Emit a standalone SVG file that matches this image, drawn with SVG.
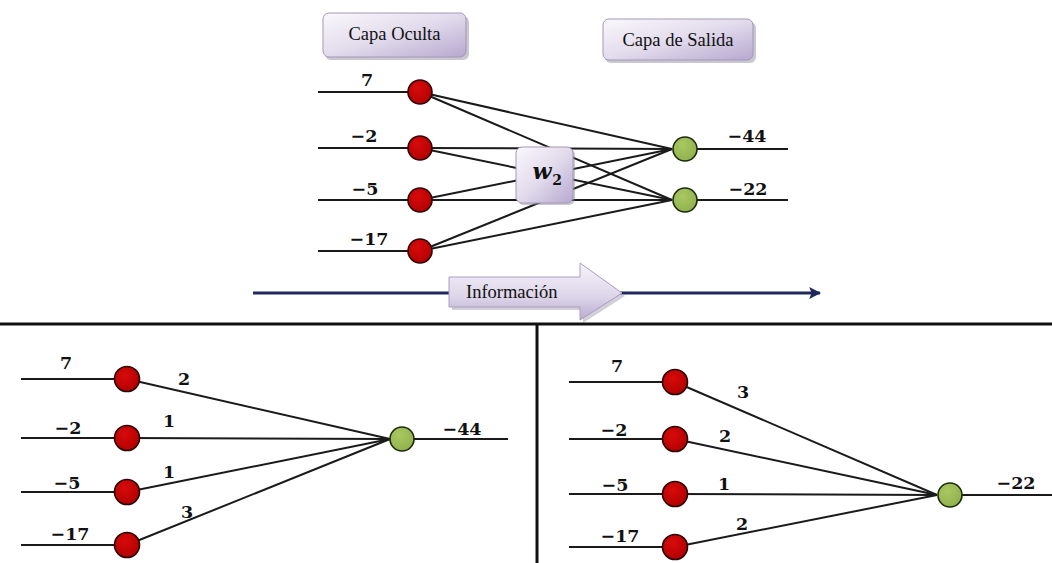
<svg xmlns="http://www.w3.org/2000/svg" width="1052" height="563" viewBox="0 0 1052 563">
  <defs>
    <linearGradient id="boxGrad" x1="0" y1="0" x2="1" y2="1">
      <stop offset="0" stop-color="#faf8fc"/>
      <stop offset="0.5" stop-color="#e2dbec"/>
      <stop offset="1" stop-color="#b7a8cf"/>
    </linearGradient>
    <linearGradient id="arrowGrad" x1="0" y1="0" x2="0" y2="1">
      <stop offset="0" stop-color="#f6f3fa"/>
      <stop offset="0.6" stop-color="#ddd5e9"/>
      <stop offset="1" stop-color="#b9abd0"/>
    </linearGradient>
    <radialGradient id="redGrad" cx="0.4" cy="0.35" r="0.7">
      <stop offset="0" stop-color="#d80a0a"/>
      <stop offset="1" stop-color="#b00000"/>
    </radialGradient>
    <radialGradient id="greenGrad" cx="0.4" cy="0.35" r="0.7">
      <stop offset="0" stop-color="#a9c862"/>
      <stop offset="1" stop-color="#8fb04c"/>
    </radialGradient>
    <marker id="navyHead" viewBox="0 0 10 10" refX="9" refY="5" markerWidth="4" markerHeight="4" orient="auto">
      <path d="M0,0 L10,5 L0,10 L2,5 Z" fill="#1f2a5c"/>
    </marker>
  </defs>
  <style>
    .wire { stroke: #1a1a1a; stroke-width: 2; fill: none; }
    .hidden { fill: url(#redGrad); stroke: #2a0606; stroke-width: 1.6; }
    .out { fill: url(#greenGrad); stroke: #1c2a0c; stroke-width: 1.6; }
    .num { font-family: "DejaVu Serif", "Liberation Serif", serif; font-weight: bold; font-size: 17.5px; fill: #111; text-anchor: middle; }
    .lbl { font-family: "Liberation Serif", "DejaVu Serif", serif; font-size: 18.5px; fill: #111; }
    .mid { text-anchor: middle; }
    .box { fill: url(#boxGrad); stroke: #a397b5; stroke-width: 1; }
    .shadow { fill: #8c8396; opacity: 0.45; }
    .divider { stroke: #111; stroke-width: 3; fill: none; }
  </style>

  <rect width="1052" height="563" fill="#ffffff"/>

  <!-- layer captions -->
  <g id="capa-oculta">
    <rect class="shadow" x="325" y="16" width="144" height="44" rx="6"/>
    <rect class="box" x="323" y="13" width="143" height="44" rx="6"/>
    <text class="lbl mid" x="394.5" y="40">Capa Oculta</text>
  </g>
  <g id="capa-salida">
    <rect class="shadow" x="605" y="22" width="151" height="41" rx="6"/>
    <rect class="box" x="603" y="19" width="150" height="41" rx="6"/>
    <text class="lbl mid" x="678" y="46">Capa de Salida</text>
  </g>

  <!-- top network connectors -->
  <g id="top-connectors">
    <line class="wire" x1="318" y1="92" x2="420" y2="92"/>
    <line class="wire" x1="318" y1="148" x2="420" y2="148"/>
    <line class="wire" x1="318" y1="200" x2="420" y2="200"/>
    <line class="wire" x1="318" y1="251" x2="420" y2="251"/>
    <line class="wire" x1="420" y1="92" x2="672" y2="149"/>
    <line class="wire" x1="420" y1="92" x2="672" y2="200"/>
    <line class="wire" x1="420" y1="148" x2="672" y2="149"/>
    <line class="wire" x1="420" y1="148" x2="672" y2="200"/>
    <line class="wire" x1="420" y1="200" x2="672" y2="149"/>
    <line class="wire" x1="420" y1="200" x2="672" y2="200"/>
    <line class="wire" x1="420" y1="251" x2="672" y2="149"/>
    <line class="wire" x1="420" y1="251" x2="672" y2="200"/>
    <line class="wire" x1="685" y1="149" x2="788" y2="149"/>
    <line class="wire" x1="685" y1="200" x2="788" y2="200"/>
  </g>

  <g id="w2-box">
    <rect class="shadow" x="518" y="149" width="57" height="56" rx="6"/>
    <rect class="box" x="516" y="147" width="57" height="56" rx="6"/>
    <text x="542" y="179" font-family="DejaVu Serif, Liberation Serif, serif" font-weight="bold" font-style="italic" font-size="22" fill="#111" text-anchor="middle">w</text>
    <text x="557" y="185" font-family="DejaVu Serif, Liberation Serif, serif" font-weight="bold" font-size="14" fill="#111" text-anchor="middle">2</text>
  </g>

  <g id="top-hidden-nodes">
    <circle class="hidden" cx="420" cy="92" r="12"/>
    <circle class="hidden" cx="420" cy="148" r="12"/>
    <circle class="hidden" cx="420" cy="200" r="12"/>
    <circle class="hidden" cx="420" cy="251" r="12"/>
  </g>
  <g id="top-output-nodes">
    <circle class="out" cx="685" cy="149" r="12"/>
    <circle class="out" cx="685" cy="200" r="12"/>
  </g>
  <g id="top-labels">
    <text class="num" x="367" y="86">7</text>
    <text class="num" x="364" y="142">−2</text>
    <text class="num" x="365" y="195">−5</text>
    <text class="num" x="369" y="245">−17</text>
    <text class="num" x="747" y="142">−44</text>
    <text class="num" x="748" y="195">−22</text>
  </g>

  <!-- information flow arrow -->
  <g id="flow">
    <line x1="253" y1="293" x2="820" y2="293" stroke="#1f2a5c" stroke-width="3" marker-end="url(#navyHead)"/>
    <path d="M452,280 H583 V266 L625,296 L583,323 V310 H452 Z" fill="#9c94a8" opacity="0.45"/>
    <path d="M449,277 H580 V263 L622,293 L580,320 V307 H449 Z" fill="url(#arrowGrad)" stroke="#a99dbd" stroke-width="1"/>
    <text class="lbl" x="466" y="298">Información</text>
  </g>

  <!-- panel dividers -->
  <g id="dividers">
    <line class="divider" x1="0" y1="324" x2="1052" y2="324"/>
    <line class="divider" x1="537" y1="324" x2="537" y2="563" stroke-width="2.5"/>
  </g>

  <!-- lower left: neuron computing -44 -->
  <g id="left-connectors">
    <line class="wire" x1="21" y1="379" x2="127" y2="379"/>
    <line class="wire" x1="21" y1="438" x2="127" y2="438"/>
    <line class="wire" x1="21" y1="492" x2="127" y2="492"/>
    <line class="wire" x1="21" y1="545" x2="127" y2="545"/>
    <line class="wire" x1="127" y1="379" x2="390" y2="439"/>
    <line class="wire" x1="127" y1="438" x2="390" y2="439"/>
    <line class="wire" x1="127" y1="492" x2="390" y2="439"/>
    <line class="wire" x1="127" y1="545" x2="390" y2="439"/>
    <line class="wire" x1="402" y1="439" x2="508" y2="439"/>
  </g>
  <g id="left-hidden-nodes">
    <circle class="hidden" cx="127" cy="379" r="12.5"/>
    <circle class="hidden" cx="127" cy="438" r="12.5"/>
    <circle class="hidden" cx="127" cy="492" r="12.5"/>
    <circle class="hidden" cx="127" cy="545" r="12.5"/>
  </g>
  <g id="left-output-node">
    <circle class="out" cx="402" cy="439" r="12"/>
  </g>
  <g id="left-labels">
    <text class="num" x="66" y="369">7</text>
    <text class="num" x="68" y="434">−2</text>
    <text class="num" x="67" y="489">−5</text>
    <text class="num" x="70" y="540">−17</text>
    <text class="num" x="184" y="385">2</text>
    <text class="num" x="169" y="427">1</text>
    <text class="num" x="169" y="478">1</text>
    <text class="num" x="187" y="518">3</text>
    <text class="num" x="462" y="435">−44</text>
  </g>

  <!-- lower right: neuron computing -22 -->
  <g id="right-connectors">
    <line class="wire" x1="569" y1="382" x2="675" y2="382"/>
    <line class="wire" x1="569" y1="439" x2="675" y2="439"/>
    <line class="wire" x1="569" y1="494" x2="675" y2="494"/>
    <line class="wire" x1="569" y1="547" x2="675" y2="547"/>
    <line class="wire" x1="675" y1="382" x2="937" y2="495"/>
    <line class="wire" x1="675" y1="439" x2="937" y2="495"/>
    <line class="wire" x1="675" y1="494" x2="937" y2="495"/>
    <line class="wire" x1="675" y1="547" x2="937" y2="495"/>
    <line class="wire" x1="950" y1="495" x2="1052" y2="495"/>
  </g>
  <g id="right-hidden-nodes">
    <circle class="hidden" cx="675" cy="382" r="12.5"/>
    <circle class="hidden" cx="675" cy="439" r="12.5"/>
    <circle class="hidden" cx="675" cy="494" r="12.5"/>
    <circle class="hidden" cx="675" cy="547" r="12.5"/>
  </g>
  <g id="right-output-node">
    <circle class="out" cx="950" cy="495" r="12"/>
  </g>
  <g id="right-labels">
    <text class="num" x="617" y="372">7</text>
    <text class="num" x="614" y="436">−2</text>
    <text class="num" x="615" y="491">−5</text>
    <text class="num" x="620" y="542">−17</text>
    <text class="num" x="743" y="398">3</text>
    <text class="num" x="725" y="442">2</text>
    <text class="num" x="724" y="490">1</text>
    <text class="num" x="742" y="530">2</text>
    <text class="num" x="1016" y="489">−22</text>
  </g>
</svg>
